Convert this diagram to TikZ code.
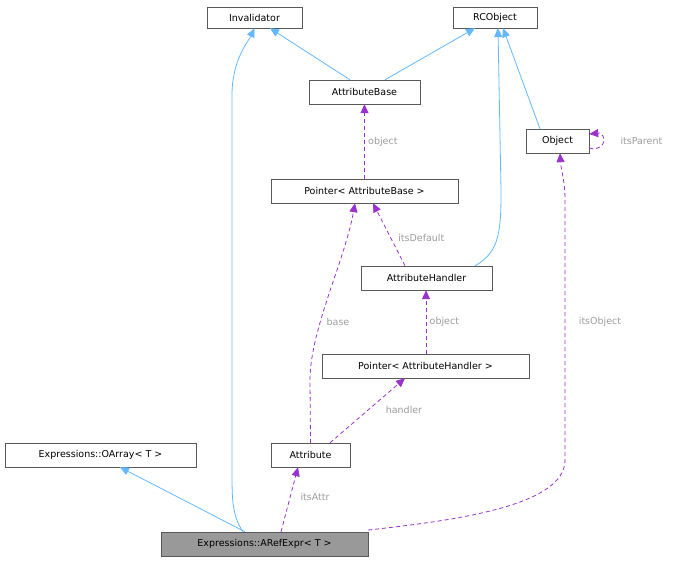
\documentclass[tikz,border=0pt]{standalone}
\usepackage{fontspec}
\setmainfont{DejaVu Sans}
\usetikzlibrary{arrows.meta}
\begin{document}
\begin{tikzpicture}[x=1pt,y=-1pt,
  box/.style={draw=black!65,fill=white,minimum height=24pt,inner sep=0pt,font=\fontsize{9.5}{11}\selectfont,anchor=center},
  inh/.style={draw=blue!30!cyan!70!white,color={rgb,255:red,99;green,184;blue,255},line width=0.8pt,-{Triangle[width=8pt,length=9pt]}},
  use/.style={color={rgb,255:red,154;green,50;blue,205},dashed,dash pattern=on 4pt off 3pt,line width=0.8pt,-{Triangle[width=8pt,length=9pt]}},
  lab/.style={text={rgb,255:red,156;green,156;blue,156},font=\fontsize{9.5}{11}\selectfont}]
\useasboundingbox (0,0) rectangle (681,561);
\node[box,minimum width=95pt,minimum height=21pt] (inv) at (254.5,17.5) {Invalidator};
\node[box,minimum width=84pt,minimum height=21pt] (rco) at (495,17.5) {RCObject};
\node[box,minimum width=111pt] (ab) at (364.5,92) {AttributeBase};
\node[box,minimum width=63pt] (obj) at (557.5,141) {Object};
\node[box,minimum width=187pt] (pab) at (364.5,191) {Pointer< AttributeBase >};
\node[box,minimum width=131pt] (ah) at (426.5,278) {AttributeHandler};
\node[box,minimum width=207pt] (pah) at (425.5,366) {Pointer< AttributeHandler >};
\node[box,minimum width=191pt] (oa) at (100.5,455) {Expressions::OArray< T >};
\node[box,minimum width=79pt] (att) at (310.5,455) {Attribute};
\node[box,minimum width=207pt,fill={rgb,255:red,153;green,153;blue,153}] (are) at (264.5,544) {Expressions::ARefExpr< T >};

\draw[inh] (are.north -| 243,0) .. controls (232,515) and (232,500) .. (232,470) -- (232,95) .. controls (232,60) and (248,42) .. (inv.south);
\draw[inh] (are.north -| 245,0) -- (oa.south -| 120,0);
\draw[inh] (ab.north -| 350,0) -- (inv.south -| 270,0);
\draw[inh] (ab.north -| 385,0) -- (rco.south -| 475,0);
\draw[inh] (ah.north -| 475,0) .. controls (500,252) and (501,230) .. (501,190) -- (498,28);
\draw[inh] (obj.north -| 540,0) -- (rco.south -| 503,0);

\draw[use] (obj.east |- 0,148) .. controls (600,152) and (610,140) .. (600,133) -- (obj.east |- 0,134);
\node[lab,anchor=west] (lp) at (617,141) {itsParent};
\draw[use] (pab) -- (ab) node[lab,midway,right] {object};
\draw[use] (ah.north -| 405,0) -- (pab.south -| 373,0) node[lab,pos=0.45,right=4pt] {itsDefault};
\draw[use] (pah.north -| 426,0) -- (ah.south -| 426,0) node[lab,midway,right] {object};
\draw[use] (att.north) -- (310,380) .. controls (310,330) and (345,260) .. (pab.south -| 355,0);
\node[lab] (lb) at (338,322) {base};
\draw[use] (att.north -| 330,0) -- (pah.south -| 405,0);
\node[lab] (lh) at (404,410) {handler};
\draw[use] (are.north -| 281,0) -- (att.south -| 298,0);
\node[lab] (li) at (315,497) {itsAttr};
\draw[use] (are.east |- 0,530) .. controls (460,520) and (565,505) .. (565,460) -- (565,200) .. controls (565,180) and (561,170) .. (obj.south -| 560,0);
\node[lab] (lo) at (600,322) {itsObject};
\end{tikzpicture}
\end{document}
